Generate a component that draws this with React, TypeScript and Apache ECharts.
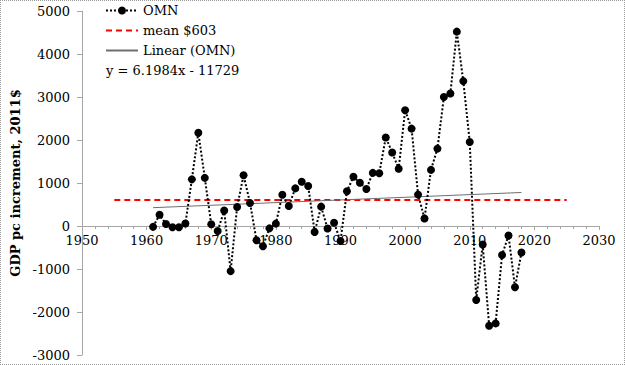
import React, { useEffect, useRef } from "react";
import * as echarts from "echarts";

const years = [
  1961, 1962, 1963, 1964, 1965, 1966, 1967, 1968, 1969, 1970,
  1971, 1972, 1973, 1974, 1975, 1976, 1977, 1978, 1979, 1980,
  1981, 1982, 1983, 1984, 1985, 1986, 1987, 1988, 1989, 1990,
  1991, 1992, 1993, 1994, 1995, 1996, 1997, 1998, 1999, 2000,
  2001, 2002, 2003, 2004, 2005, 2006, 2007, 2008, 2009, 2010,
  2011, 2012, 2013, 2014, 2015, 2016, 2017, 2018,
];
const omnValues = [
  -20, 260, 45, -30, -30, 60, 1085, 2170, 1120, 40,
  -115, 360, -1050, 440, 1180, 535, -330, -470, -55, 55,
  725, 465, 875, 1030, 930, -140, 450, -60, 75, -350,
  810, 1145, 1005, 860, 1235, 1225, 2060, 1710, 1330, 2690,
  2265, 730, 175, 1305, 1800, 3000, 3080, 4520, 3370, 1955,
  -1720, -430, -2320, -2265, -675, -220, -1425, -615,
];
const meanValue = 603;
const meanRange = [1955, 2025];
const trendSlope = 6.1984;
const trendIntercept = -11729;
const xTicks = { min: 1950, max: 2030, interval: 10 };
const yTicks = { min: -3000, max: 5000, interval: 1000 };

const FONT = "DejaVu Serif";
const CHART_H = 363;
const GRID_TOP = 10;
const GRID_BOTTOM = 9;

export default function App() {
  const ref = useRef<HTMLDivElement>(null);
  useEffect(() => {
    if (!ref.current) return;
    const chart = echarts.init(ref.current, null, { renderer: "svg" });
    const omnData = years.map((y, i) => [y, omnValues[i]]);
    const meanData = meanRange.map((y) => [y, meanValue]);
    const firstYear = years[0];
    const lastYear = years[years.length - 1];
    const trendData = [firstYear, lastYear].map((y) => [y, trendSlope * y + trendIntercept]);
    // place the x axis on the y = 0 line
    const plotH = CHART_H - GRID_TOP - GRID_BOTTOM;
    const zeroFromBottom = (plotH * (0 - yTicks.min)) / (yTicks.max - yTicks.min);
    chart.setOption({
      animation: false,
      backgroundColor: "#fff",
      textStyle: { fontFamily: FONT },
      grid: { left: 81, right: 25, top: GRID_TOP, bottom: GRID_BOTTOM, containLabel: false, outerBoundsMode: "none" },
      legend: {
        orient: "vertical",
        left: 104,
        top: 3,
        padding: 0,
        itemWidth: 32,
        itemHeight: 10,
        itemGap: 7,
        textStyle: { fontFamily: FONT, fontSize: 13, color: "#000" },
        data: [
          { name: "OMN" },
          { name: "mean $603", itemStyle: { opacity: 0 } },
          { name: "Linear (OMN)", itemStyle: { opacity: 0 } },
        ],
      },
      graphic: [
        {
          type: "text",
          left: 105,
          top: 63,
          style: { text: "y = 6.1984x - 11729", font: `13px "${FONT}"`, fill: "#000" },
        },
      ],
      xAxis: {
        type: "value",
        min: xTicks.min,
        max: xTicks.max,
        interval: xTicks.interval,
        position: "bottom",
        offset: -zeroFromBottom,
        splitLine: { show: false },
        axisLine: { onZero: false, lineStyle: { color: "#a6a6a6", width: 1 } },
        axisTick: { show: true, length: 4, lineStyle: { color: "#a6a6a6" } },
        minorTick: { show: true, splitNumber: 5, length: 3, lineStyle: { color: "#a6a6a6" } },
        axisLabel: { fontFamily: FONT, fontSize: 13, color: "#000", margin: 8, formatter: (v: number) => String(v) },
      },
      yAxis: {
        type: "value",
        min: yTicks.min,
        max: yTicks.max,
        interval: yTicks.interval,
        name: "GDP pc increment, 2011$",
        nameLocation: "middle",
        nameGap: 58,
        nameTextStyle: { fontFamily: FONT, fontSize: 13, fontWeight: "bold", color: "#000" },
        splitLine: { show: false },
        axisLine: { show: true, onZero: false, lineStyle: { color: "#a6a6a6", width: 1 } },
        axisTick: { show: true, length: 5, lineStyle: { color: "#a6a6a6" } },
        axisLabel: { fontFamily: FONT, fontSize: 13, color: "#000", margin: 12, formatter: (v: number) => String(v) },
      },
      series: [
        {
          name: "OMN",
          type: "line",
          data: omnData,
          symbol: "circle",
          symbolSize: 8,
          itemStyle: { color: "#000" },
          lineStyle: { color: "#000", width: 2, type: [2, 2] },
          z: 3,
        },
        {
          name: "mean $603",
          type: "line",
          data: meanData,
          symbol: "none",
          itemStyle: { color: "#ff0000" },
          lineStyle: { color: "#ff0000", width: 2, type: [6, 4] },
          z: 2,
        },
        {
          name: "Linear (OMN)",
          type: "line",
          data: trendData,
          symbol: "none",
          itemStyle: { color: "#808080" },
          lineStyle: { color: "#6e6e6e", width: 1 },
          z: 2,
        },
      ],
    });
    return () => chart.dispose();
  }, []);
  return (
    <div
      style={{
        position: "fixed",
        left: 0,
        top: 0,
        width: 625,
        height: 365,
        boxSizing: "border-box",
        border: "1px dotted #9a9a9a",
        background: "#fff",
      }}
    >
      <div ref={ref} style={{ width: 623, height: CHART_H }} />
    </div>
  );
}
